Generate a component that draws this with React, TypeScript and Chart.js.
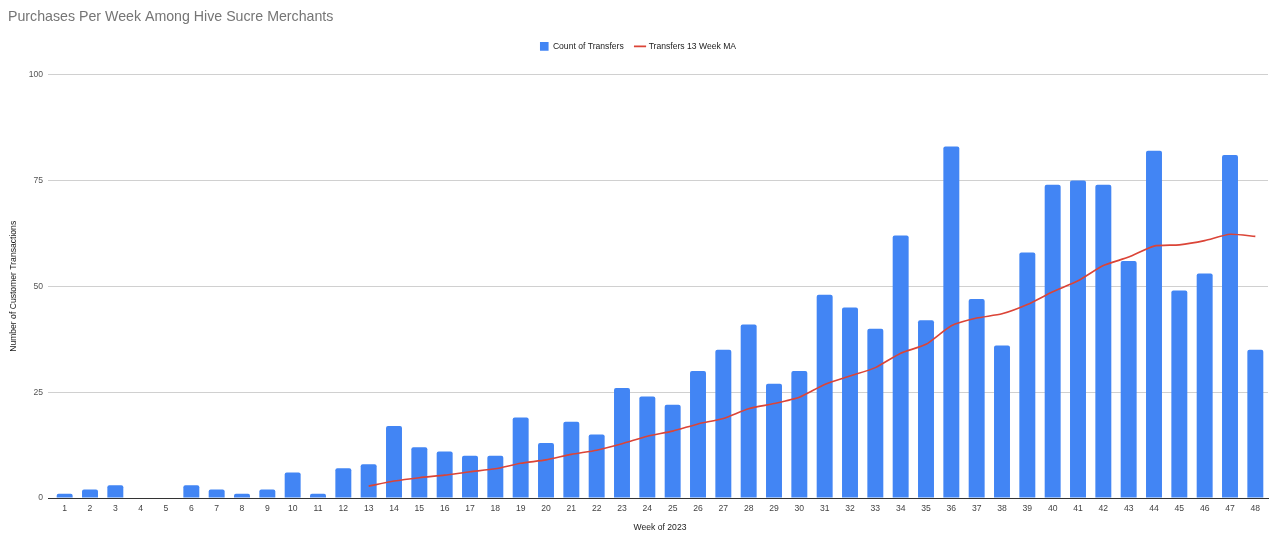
import React, { useEffect, useRef } from "react";
import { Chart, registerables } from "chart.js";

Chart.register(...registerables);

const weeks: string[] = Array.from({ length: 48 }, (_, i) => String(i + 1));
const transferCounts: number[] = [
  1, 2, 3, 0, 0, 3, 2, 1, 2, 6, 1, 7, 8, 17, 12, 11, 10, 10, 19, 13, 18, 15, 26, 24,
  22, 30, 35, 41, 27, 30, 48, 45, 40, 62, 42, 83, 47, 36, 58, 74, 75, 74, 56, 82, 49, 53, 81, 35,
];
const movingAverage: (number | null)[] = [
  null, null, null, null, null, null, null, null, null, null, null, null,
  2.8, 4.0, 4.8, 5.4, 6.2, 6.9, 8.2, 9.0, 10.3, 11.3, 12.8, 14.6, 15.8, 17.5,
  18.8, 21.1, 22.3, 23.8, 26.8, 28.8, 30.8, 34.2, 36.3, 40.7, 42.5, 43.5, 45.7,
  48.7, 51.3, 54.9, 56.9, 59.5, 59.8, 60.8, 62.3, 61.8,
];
const yTicks: number[] = [0, 25, 50, 75, 100];

const FONT = "'Liberation Sans', Arial, sans-serif";
const SMALL = 8.6;

const legendSpacer = {
  id: "legendSpacer",
  beforeInit(chart: any) {
    const orig = chart.legend.fit;
    chart.legend.fit = function () {
      orig.call(this);
      this.height += 14;
    };
  },
};

export default function App() {
  const ref = useRef<HTMLCanvasElement | null>(null);
  useEffect(() => {
    document.body.style.margin = "0";
    const chart = new Chart(ref.current!, {
      type: "bar",
      data: {
        labels: weeks,
        datasets: [
          {
            type: "bar",
            label: "Count of Transfers",
            data: transferCounts,
            backgroundColor: "#4285f4",
            borderRadius: 2,
            barPercentage: 0.63,
            categoryPercentage: 1,
            order: 2,
            pointStyle: "rect",
          } as any,
          {
            type: "line",
            label: "Transfers 13 Week MA",
            data: movingAverage,
            borderColor: "#db4437",
            backgroundColor: "#db4437",
            borderWidth: 1.6,
            pointRadius: 0,
            tension: 0.2,
            order: 1,
            pointStyle: "line",
          } as any,
        ],
      },
      plugins: [legendSpacer],
      options: {
        animation: false,
        responsive: false,
        layout: { padding: { left: 8, right: 12, top: 0, bottom: 0 } },
        plugins: {
          title: {
            display: true,
            text: "Purchases Per Week Among Hive Sucre Merchants",
            align: "start",
            color: "#757575",
            font: { family: FONT, size: 14.2, weight: "normal" },
            padding: { top: 9, bottom: 4 },
          },
          legend: {
            display: true,
            position: "top",
            labels: {
              usePointStyle: true,
              boxWidth: 10,
              boxHeight: 9,
              color: "#222",
              font: { family: FONT, size: SMALL },
              padding: 12,
              sort: (a: any, b: any) => a.datasetIndex - b.datasetIndex,
            },
          },
          tooltip: { enabled: false },
        },
        scales: {
          x: {
            afterFit: (s: any) => {
              s.height = 40;
            },
            grid: { display: false, drawTicks: false, tickLength: 0 },
            border: { display: true, color: "#333", width: 1 },
            ticks: { color: "#444", font: { family: FONT, size: SMALL }, autoSkip: false, maxRotation: 0, padding: 5 },
            title: {
              display: true,
              text: "Week of 2023",
              color: "#222",
              font: { family: FONT, size: SMALL },
              padding: { top: 4, bottom: 5 },
            },
          },
          y: {
            min: 0,
            max: 100,
            afterBuildTicks: (s: any) => {
              s.ticks = yTicks.map((v) => ({ value: v }));
            },
            afterFit: (s: any) => {
              s.width = 44;
            },
            grid: {
              color: (c: any) => (c.tick && c.tick.value === 0 ? "#333" : "#d0d0d0"),
              tickLength: 4,
            },
            border: { display: false },
            ticks: { color: "#555", font: { family: FONT, size: SMALL }, padding: 5 },
            title: {
              display: true,
              text: "Number of Customer Transactions",
              color: "#222",
              font: { family: FONT, size: SMALL },
              padding: { top: 0, bottom: 0 },
            },
          },
        },
      },
    });
    return () => chart.destroy();
  }, []);
  return (
    <div style={{ width: 1280, height: 538, background: "#fff" }}>
      <canvas ref={ref} width={1280} height={538} style={{ display: "block" }} />
    </div>
  );
}
